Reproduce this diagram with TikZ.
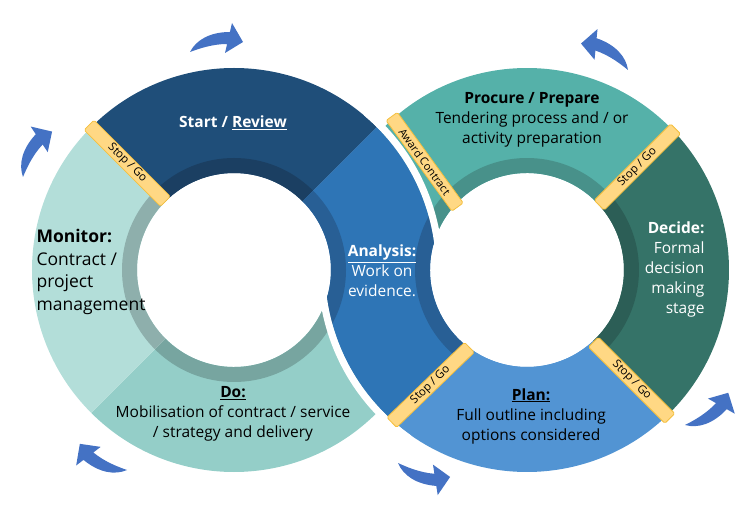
\documentclass[tikz,border=0pt]{standalone}
\usepackage{fontspec}
\setmainfont{Open Sans}
\usetikzlibrary{calc}

\definecolor{startcol}{HTML}{1F4E79}
\definecolor{startband}{HTML}{1B3F62}
\definecolor{anacol}{HTML}{2E75B6}
\definecolor{anaband}{HTML}{285F95}
\definecolor{plancol}{HTML}{5294D3}
\definecolor{decidecol}{HTML}{357368}
\definecolor{decideband}{HTML}{2C5E56}
\definecolor{procol}{HTML}{55B1A9}
\definecolor{proband}{HTML}{48918A}
\definecolor{moncol}{HTML}{B3DED9}
\definecolor{monband}{HTML}{8EAFAC}
\definecolor{docol}{HTML}{94CEC8}
\definecolor{doband}{HTML}{77A5A0}
\definecolor{barfill}{HTML}{FFD884}
\definecolor{baredge}{HTML}{F4BF3E}
\definecolor{arrowcol}{HTML}{4472C4}

\tikzset{
  stopgo/.style={draw=baredge, fill=barfill, line width=0.8pt, rounded corners=1.5pt,
    minimum width=108pt, minimum height=14pt, inner sep=0pt, font=\fontsize{11.5}{11.5}\selectfont},
  gap/.style={draw=white, line width=7pt},
  turn/.style={fill=arrowcol},
  darktext/.style={align=center, font=\fontsize{15.5}{20}\selectfont},
  lighttext/.style={darktext, text=white},
}

% annular sector: centre, from, to, colour, colour of inner band
\newcommand{\ringseg}[5]{%
  \fill[#4] ([shift={(#2:202)}]#1) arc[start angle=#2, end angle=#3, radius=202pt]
    -- ([shift={(#3:97)}]#1) arc[start angle=#3, end angle=#2, radius=97pt] -- cycle;
  \fill[#5] ([shift={(#2:112)}]#1) arc[start angle=#2, end angle=#3, radius=112pt]
    -- ([shift={(#3:97)}]#1) arc[start angle=#3, end angle=#2, radius=97pt] -- cycle;}

\newcommand{\turnarrow}[1]{%
  \fill[turn,#1] (0,0) .. controls (6,12) and (20,20) .. (39.9,20) -- (42,29) -- (53,10)
    -- (35,-1) -- (37.1,8) .. controls (22,8) and (8,3) .. cycle;}

\newcommand{\anapath}{([shift={(45:202)}]L) arc[start angle=45, end angle=7.9, radius=202pt]
    arc[start angle=163.3, end angle=230, radius=97pt] -- ([shift={(230:202)}]R)
    arc[start angle=230, end angle=187.9, radius=202pt]
    arc[start angle=-16.66, end angle=45, radius=97pt] -- cycle}

\begin{document}
\begin{tikzpicture}[x=1pt, y=1pt]
  \useasboundingbox (0,0) rectangle (747,517);
  \coordinate (L) at (234,247);
  \coordinate (R) at (527,247);

  \ringseg{R}{43}{165}{procol}{proband}
  \ringseg{R}{-47}{43}{decidecol}{decideband}
  \ringseg{R}{230}{313}{plancol}{plancol}
  \ringseg{L}{225}{345}{docol}{doband}
  \ringseg{L}{135}{225}{moncol}{monband}
  \ringseg{L}{45}{135}{startcol}{startband}

  \fill[anacol] \anapath;
  \begin{scope}
    \clip \anapath;
    \fill[anaband, even odd rule] (L) circle[radius=112pt] (L) circle[radius=97pt];
    \fill[anaband, even odd rule] (R) circle[radius=112pt] (R) circle[radius=97pt];
  \end{scope}
  \draw[gap] ([shift={(50:205.5)}]L) arc[start angle=50, end angle=5, radius=205.5pt];
  \draw[gap] ([shift={(180:205.5)}]R) arc[start angle=180, end angle=235, radius=205.5pt];

  \node[stopgo, rotate=-45] (sgStart) at ([shift={(135:151)}]L) {Stop / Go};
  \node[stopgo, rotate=-54, minimum width=112pt, font=\fontsize{11}{11}\selectfont] (award) at ([shift={(133.4:149)}]R) {Award Contract};
  \node[stopgo, rotate=45] (sgDecide) at ([shift={(43:151)}]R) {Stop / Go};
  \node[stopgo, rotate=-45] (sgPlan) at ([shift={(-46.5:152)}]R) {Stop / Go};
  \node[stopgo, rotate=44] (sgAna) at ([shift={(230:150)}]R) {Stop / Go};

  \node[lighttext, font=\bfseries\fontsize{15.5}{20}\selectfont] (startTxt) at (233,394) {Start / \underline{Review}};
  \node[lighttext] (anaTxt) at (382,246) {\textbf{\underline{Analysis:}}\\Work on\\evidence.};
  \node[darktext] (procTxt) at (532,397) {\textbf{Procure / Prepare}\\Tendering process and / or\\activity preparation};
  \node[lighttext, align=right, anchor=east] (decTxt) at (708,248) {\textbf{Decide:}\\Formal\\decision\\making\\stage};
  \node[darktext] (planTxt) at (531,101) {\textbf{\underline{Plan:}}\\Full outline including\\options considered};
  \node[darktext] (doTxt) at (233,103) {\textbf{\underline{Do:}}\\Mobilisation of contract / service\\/ strategy and delivery};
  \node[darktext, align=left, anchor=west, font=\fontsize{17.5}{22.5}\selectfont] (monTxt) at (33,245) {\textbf{Monitor:}\\Contract /\\project\\management};

  \turnarrow{shift={(23,340)}, rotate=46.7}
  \turnarrow{shift={(190,465)}}
  \turnarrow{shift={(628,447)}, rotate=161.3, yscale=-1}
  \turnarrow{shift={(685,92)}, rotate=47.4, yscale=-1}
  \turnarrow{shift={(398,54)}, rotate=-4.3, yscale=-1}
  \turnarrow{shift={(127,47)}, rotate=140.3}
\end{tikzpicture}
\end{document}
